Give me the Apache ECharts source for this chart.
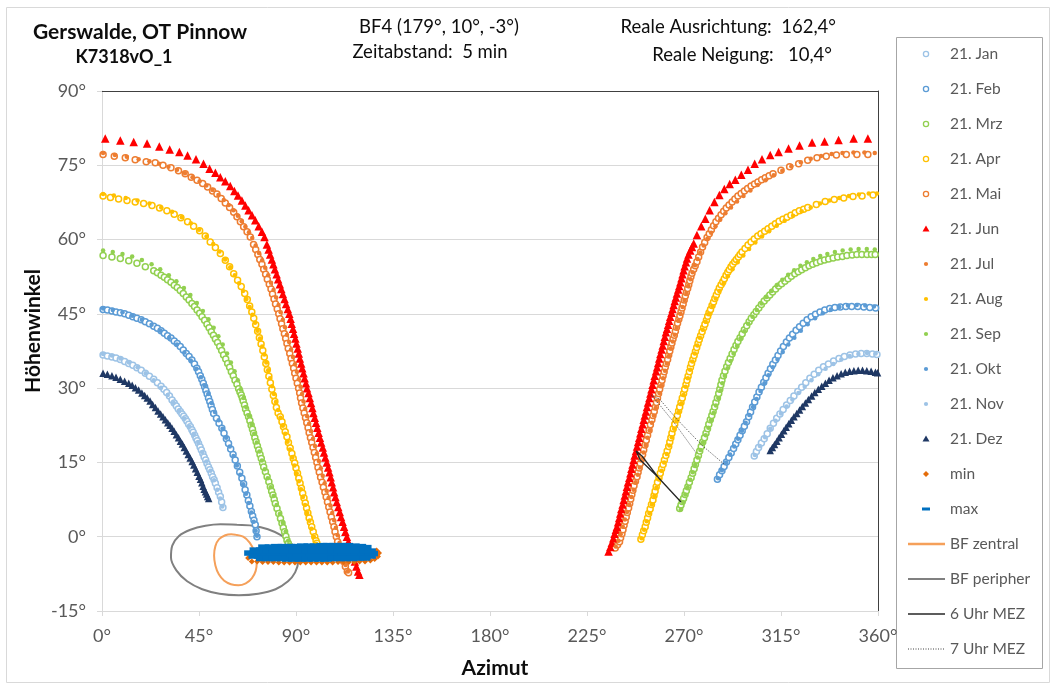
<!DOCTYPE html>
<html>
<head>
<meta charset="utf-8">
<script src="https://cdn.jsdelivr.net/npm/echarts@6/dist/echarts.min.js"></script>
<style>
  html, body { margin: 0; padding: 0; background: #fff; }
  #chart { width: 1055px; height: 688px; }
</style>
</head>
<body>
<div id="chart"></div>
<script>
// Sun positions reflected over the module field, one point every 5 minutes.
// Every point is [azimuth in degrees, elevation in degrees].

const AZ_MIN = 0, AZ_MAX = 360, AZ_STEP = 45;
const EL_MIN = -15, EL_MAX = 90, EL_STEP = 15;

const legendNames = ['21. Jan', '21. Feb', '21. Mrz', '21. Apr', '21. Mai', '21. Jun',
  '21. Jul', '21. Aug', '21. Sep', '21. Okt', '21. Nov', '21. Dez',
  'min', 'max', 'BF zentral', 'BF peripher', '6 Uhr MEZ', '7 Uhr MEZ'];

// ---- 21. Jan ----
const janLeft = [[0.5,36.7],[2.5,36.5],[4.6,36.3],[6.5,36.1],[8.5,35.8],[10.5,35.4],[12.4,35.0],[14.3,34.6],[16.2,34.1],[18.2,33.6],[20.1,33.0],[22.0,32.4],[24.0,31.8],[25.7,31.1],[27.4,30.4],[28.7,29.8],[30.0,29.1],[31.3,28.4],[32.5,27.6],[33.5,27.0],[34.5,26.4],[35.4,25.8],[36.3,25.3],[37.1,24.8],[37.9,24.3],[38.7,23.8],[39.4,23.3],[40.2,22.7],[41.0,22.2],[41.7,21.6],[42.3,21.1],[43.0,20.5],[43.6,19.9],[44.2,19.4],[44.8,18.8],[45.5,18.1],[46.1,17.5],[46.8,16.8],[47.4,16.1],[48.1,15.5],[48.7,14.8],[49.4,14.1],[50.0,13.5],[50.7,12.8],[51.3,12.1],[52.0,11.5],[52.6,10.8],[53.4,9.9],[54.1,9.0],[54.9,8.1],[55.5,7.0],[56.1,5.9]];
const janRight = [[302.6,16.3],[303.6,17.2],[304.6,18.0],[305.9,18.9],[307.2,19.8],[308.6,20.8],[310.0,21.9],[311.5,22.9],[313.0,23.9],[314.5,24.8],[316.0,25.7],[317.6,26.6],[319.3,27.5],[321.0,28.4],[322.8,29.3],[324.6,30.2],[326.5,31.1],[328.4,32.0],[330.4,32.8],[332.5,33.6],[334.7,34.3],[337.0,34.9],[339.4,35.5],[341.9,36.0],[344.4,36.4],[347.0,36.7],[349.6,36.9],[352.2,37.0],[354.8,37.0],[357.4,36.9],[359.5,36.8]];

// ---- 21. Feb ----
const febLeft = [[0.5,45.9],[2.5,45.8],[4.6,45.6],[6.5,45.4],[8.5,45.2],[10.5,45.0],[12.4,44.7],[14.3,44.4],[16.2,44.1],[18.2,43.8],[20.1,43.4],[22.0,43.0],[24.0,42.5],[25.7,42.1],[27.4,41.6],[28.9,41.1],[30.4,40.6],[32.0,40.1],[33.5,39.5],[34.9,39.0],[36.3,38.4],[37.7,37.7],[39.1,37.0],[40.4,36.4],[41.7,35.7],[42.9,34.9],[44.0,34.0],[44.8,33.3],[45.6,32.5],[46.3,31.8],[47.0,31.0],[47.6,30.3],[48.2,29.5],[48.8,28.8],[49.4,28.0],[50.0,27.3],[50.6,26.5],[51.2,25.7],[51.8,24.9],[53.1,23.9],[54.3,22.9],[55.6,21.9],[56.6,20.9],[57.7,19.8],[58.7,18.8],[59.7,17.7],[60.8,16.6],[61.8,15.5],[62.8,14.3],[63.9,13.0],[64.9,11.8],[65.7,10.7],[66.4,9.5],[67.2,8.4],[67.9,7.3],[68.6,6.2],[69.3,5.1],[69.9,4.2],[70.5,3.3],[71.1,2.4],[71.5,1.2],[71.9,0.0]];
const febRight = [[285.5,11.6],[286.5,12.5],[287.6,13.3],[288.6,14.2],[289.7,15.1],[290.8,16.0],[291.9,16.9],[293.0,17.8],[294.0,18.7],[295.0,19.6],[296.0,20.5],[297.0,21.4],[298.0,22.3],[299.0,23.2],[300.0,24.2],[300.9,25.2],[301.8,26.2],[302.8,27.2],[303.8,28.2],[304.8,29.2],[305.9,30.2],[307.0,31.2],[308.0,32.1],[309.0,33.0],[310.1,33.9],[311.2,34.8],[312.4,35.7],[313.6,36.6],[314.8,37.5],[316.1,38.4],[317.5,39.3],[318.9,40.1],[320.4,40.9],[322.0,41.7],[323.6,42.4],[325.3,43.1],[327.1,43.8],[329.0,44.4],[331.0,44.9],[333.1,45.4],[335.3,45.8],[337.6,46.1],[340.0,46.3],[342.5,46.4],[345.1,46.5],[347.8,46.5],[350.6,46.5],[353.4,46.4],[356.2,46.3],[358.9,46.2]];

// ---- 21. Mrz ----
const mrzLeft = [[0.5,56.8],[4.6,56.5],[8.5,56.2],[12.4,55.7],[16.2,55.2],[20.1,54.5],[24.0,53.7],[25.7,53.3],[27.4,52.8],[28.9,52.4],[30.4,51.9],[32.0,51.4],[33.5,50.8],[34.9,50.3],[36.3,49.7],[37.7,49.1],[39.1,48.4],[40.4,47.8],[41.7,47.1],[42.9,46.5],[44.1,45.8],[45.3,45.1],[46.4,44.4],[47.6,43.7],[48.7,42.9],[49.7,42.2],[50.7,41.4],[51.7,40.7],[52.6,39.9],[53.6,39.2],[54.6,38.4],[55.5,37.6],[56.4,36.7],[57.4,35.9],[58.3,35.0],[59.2,34.2],[60.0,33.3],[60.9,32.5],[61.7,31.6],[62.6,30.8],[63.4,29.9],[64.0,29.2],[64.6,28.6],[65.1,28.0],[65.5,27.4],[66.1,26.6],[66.6,25.8],[67.3,25.0],[68.0,24.2],[68.6,23.4],[69.2,22.5],[69.8,21.7],[70.3,20.9],[70.9,20.0],[71.5,19.2],[72.1,18.3],[72.7,17.5],[73.3,16.6],[73.9,15.8],[74.5,14.9],[75.0,14.1],[75.8,13.1],[76.6,12.1],[77.4,11.1],[78.1,10.1],[78.7,9.2],[79.3,8.4],[79.9,7.5],[80.4,6.7],[81.2,5.7],[82.0,4.7],[82.8,3.7],[83.5,2.7],[84.1,1.8],[84.7,1.0],[85.3,0.1],[85.8,-0.7],[86.4,-1.3],[87.0,-2.0]];
const mrzRight = [[268.0,5.7],[268.6,6.4],[269.2,7.1],[269.8,7.7],[270.5,8.5],[271.1,9.3],[271.8,10.1],[272.5,11.0],[273.3,11.9],[274.0,12.8],[274.7,13.7],[275.3,14.6],[276.0,15.5],[276.7,16.4],[277.3,17.3],[278.0,18.2],[278.7,19.1],[279.5,20.0],[280.2,20.9],[280.9,21.8],[281.5,22.7],[282.2,23.6],[282.9,24.5],[283.5,25.3],[284.2,26.2],[284.8,27.1],[285.5,28.0],[286.1,28.9],[286.6,29.8],[287.1,30.7],[287.6,31.6],[288.3,32.5],[289.0,33.4],[289.8,34.3],[290.6,35.2],[291.4,36.0],[292.3,36.9],[293.2,37.8],[294.1,38.6],[295.0,39.4],[296.0,40.2],[297.0,41.0],[298.0,41.8],[299.1,42.6],[300.2,43.4],[301.2,44.1],[302.4,44.8],[303.5,45.5],[304.7,46.2],[305.9,46.9],[307.2,47.6],[308.5,48.2],[309.8,48.8],[311.1,49.4],[312.5,50.0],[313.9,50.6],[315.3,51.1],[316.8,51.6],[318.3,52.1],[319.8,52.6],[321.4,53.1],[323.0,53.5],[324.6,53.9],[326.3,54.3],[328.0,54.7],[329.7,55.0],[331.5,55.3],[333.3,55.6],[335.2,55.9],[337.1,56.1],[339.2,56.3],[341.3,56.5],[343.5,56.6],[345.6,56.8],[348.0,56.9],[350.2,57.0],[352.5,57.0],[354.9,57.0],[357.0,57.0],[358.7,57.0]];

// ---- 21. Apr ----
const aprLeft = [[0.5,68.8],[3.9,68.5],[7.7,68.2],[11.6,67.9],[15.4,67.6],[19.3,67.3],[23.2,66.9],[26.7,66.4],[30.1,65.8],[33.5,65.1],[36.6,64.4],[39.7,63.6],[42.5,62.7],[45.3,61.8],[47.9,60.7],[50.2,59.5],[52.6,58.4],[54.9,57.2],[57.2,55.8],[59.2,54.5],[61.1,53.1],[62.9,51.8],[64.6,50.5],[66.2,49.1],[67.4,47.9],[68.5,46.6],[69.5,45.4],[70.4,44.1],[71.3,42.8],[72.2,41.5],[73.0,40.2],[73.8,38.9],[74.6,37.6],[75.3,36.3],[76.0,35.0],[76.7,33.7],[77.4,32.4],[78.1,31.1],[78.8,29.8],[79.5,28.5],[80.2,27.3],[80.9,26.1],[81.7,25.0],[82.7,24.2],[83.5,23.2],[84.2,22.2],[85.0,21.2],[85.8,20.2],[86.5,19.0],[87.3,17.9],[88.1,16.8],[88.7,15.8],[89.4,14.9],[90.0,13.9],[90.7,12.8],[91.3,11.8],[91.9,10.8],[92.5,9.8],[93.1,8.8],[93.7,7.8],[94.3,6.8],[94.9,5.8],[95.5,4.8],[96.1,3.8],[96.7,2.9],[97.3,2.0],[98.0,1.0],[98.7,0.0],[99.3,-0.8],[99.7,-1.3]];
const aprRight = [[250.0,-0.5],[250.7,0.4],[251.3,1.2],[252.0,2.0],[252.5,2.9],[253.1,3.8],[253.6,4.7],[254.3,5.6],[254.9,6.5],[255.6,7.4],[256.1,8.3],[256.6,9.2],[257.1,10.1],[257.7,11.0],[258.4,11.9],[259.0,12.8],[259.6,13.7],[260.3,14.6],[260.9,15.5],[261.6,16.4],[262.2,17.3],[262.9,18.2],[263.4,19.1],[263.9,20.0],[264.4,20.9],[265.0,21.8],[265.7,22.7],[266.3,23.6],[266.9,24.5],[267.5,25.4],[268.0,26.2],[268.6,27.1],[269.2,28.0],[269.8,28.9],[270.3,29.8],[270.9,30.7],[271.4,31.6],[271.9,32.4],[272.5,33.3],[273.0,34.2],[273.5,35.0],[274.1,35.8],[274.7,36.6],[275.3,37.4],[275.9,38.2],[276.5,39.0],[277.1,39.8],[277.7,40.6],[278.4,41.4],[279.1,42.2],[279.7,42.9],[280.4,43.7],[281.0,44.5],[281.6,45.2],[282.3,45.9],[283.0,46.7],[283.7,47.4],[284.3,48.1],[285.0,48.8],[285.7,49.5],[286.4,50.2],[287.2,50.9],[288.0,51.5],[288.7,52.1],[289.5,52.8],[290.3,53.4],[291.0,53.9],[291.8,54.5],[292.6,55.0],[293.5,55.5],[294.3,56.0],[295.2,56.5],[296.0,57.0],[296.9,57.5],[298.3,58.2],[299.7,58.9],[301.1,59.5],[302.6,60.1],[304.2,60.7],[305.7,61.2],[307.4,61.7],[309.0,62.2],[310.7,62.7],[312.4,63.2],[314.1,63.7],[315.9,64.1],[317.8,64.5],[319.6,64.9],[321.6,65.4],[323.5,65.8],[325.5,66.1],[327.4,66.5],[331.4,67.1],[335.5,67.7],[339.7,68.1],[344.1,68.4],[348.4,68.7],[352.6,68.8],[357.7,69.0]];

// ---- 21. Mai ----
const maiLeft = [[0.5,77.2],[5.7,76.8],[10.8,76.5],[15.4,76.1],[20.5,75.7],[24.7,75.5],[28.3,75.0],[32.0,74.5],[35.5,73.9],[38.6,73.3],[41.4,72.6],[44.1,72.0],[46.7,71.3],[49.0,70.6],[51.3,69.8],[53.3,69.2],[55.3,68.3],[57.2,67.4],[59.2,66.5],[61.1,65.5],[62.6,64.6],[64.2,63.6],[65.7,62.6],[67.3,61.6],[68.8,60.5],[70.3,59.0],[71.3,58.0],[72.3,57.0],[73.2,56.0],[74.2,55.0],[75.0,54.0],[75.9,53.0],[76.7,52.0],[77.6,51.0],[78.4,50.0],[79.1,49.0],[79.8,48.0],[80.5,47.0],[81.3,46.0],[82.0,45.0],[82.6,44.0],[83.3,43.0],[83.9,42.0],[84.6,41.0],[85.2,40.0],[85.8,39.0],[86.4,38.0],[87.1,37.0],[87.7,36.0],[88.3,35.0],[88.9,34.0],[89.4,33.0],[90.0,32.0],[90.6,31.0],[91.2,30.0],[91.7,29.0],[92.1,28.0],[92.6,27.0],[93.2,26.0],[93.8,25.0],[94.4,24.0],[95.0,23.0],[95.6,22.0],[96.1,21.0],[96.7,20.0],[97.3,19.0],[97.9,18.0],[98.5,17.0],[99.1,16.0],[99.7,15.0],[100.2,14.0],[100.8,13.0],[101.4,12.0],[102.1,11.0],[102.7,10.0],[103.4,9.0],[104.0,8.0],[104.6,7.0],[105.2,6.0],[105.8,5.0],[106.4,4.0],[107.0,3.0],[107.6,2.0],[108.1,1.0],[108.7,0.0],[109.3,-1.0],[110.0,-2.0],[110.7,-3.0],[111.3,-4.0],[112.1,-5.0],[112.9,-6.0],[113.8,-7.0],[114.4,-7.3]];
const maiRight = [[238.1,-2.3],[239.2,-1.6],[240.1,-1.0],[240.6,-0.2],[241.2,0.6],[241.7,1.4],[242.2,2.3],[242.7,3.1],[243.2,4.0],[243.7,4.9],[244.3,5.8],[244.8,6.7],[245.3,7.6],[245.8,8.5],[246.3,9.4],[246.8,10.3],[247.5,11.2],[248.2,12.1],[248.7,13.0],[249.2,13.9],[249.7,14.8],[250.3,15.7],[250.8,16.6],[251.3,17.5],[251.9,18.5],[252.5,19.5],[253.1,20.5],[253.8,21.5],[254.4,22.6],[255.1,23.6],[255.6,24.5],[256.2,25.3],[256.7,26.2],[257.2,27.1],[257.7,28.0],[258.2,28.9],[258.7,29.8],[259.3,30.7],[259.8,31.6],[260.3,32.5],[260.8,33.3],[261.3,34.2],[261.8,35.0],[262.4,35.8],[262.9,36.7],[263.4,37.5],[263.9,38.3],[264.4,39.1],[264.9,39.9],[265.5,40.7],[266.0,41.5],[266.5,42.3],[267.0,43.1],[267.6,43.9],[268.1,44.6],[268.6,45.4],[269.1,46.2],[269.6,47.0],[270.1,47.8],[270.6,48.6],[271.1,49.3],[271.7,50.1],[272.2,50.9],[272.7,51.7],[273.2,52.5],[273.7,53.2],[274.5,54.0],[275.2,54.7],[276.0,55.5],[276.8,56.5],[277.7,57.5],[278.6,58.5],[279.6,59.4],[280.7,60.4],[281.7,61.2],[282.7,62.0],[283.7,62.8],[284.8,63.6],[286.0,64.3],[287.2,65.0],[288.4,65.7],[289.6,66.4],[290.9,67.0],[292.3,67.6],[293.6,68.2],[295.0,68.8],[296.5,69.3],[298.0,69.8],[299.5,70.3],[301.1,70.8],[302.7,71.2],[304.3,71.6],[306.0,72.1],[307.7,72.5],[309.5,72.9],[311.3,73.3],[315.0,74.0],[319.0,74.7],[323.2,75.3],[327.4,76.0],[331.7,76.5],[336.0,76.8],[340.7,77.1],[345.3,77.2],[350.2,77.2],[355.3,77.2]];

// ---- 21. Jun ----
const junLeft = [[1.5,80.4],[8.5,80.0],[14.7,79.7],[20.9,79.4],[26.6,78.8],[31.4,78.2],[35.9,77.7],[39.7,77.0],[43.6,76.2],[47.1,75.3],[49.9,74.3],[52.6,73.5],[54.9,72.6],[57.2,71.8],[59.5,70.8],[61.4,69.8],[63.1,68.9],[64.9,67.9],[66.5,66.9],[68.0,65.9],[69.6,64.9],[71.1,63.9],[72.7,62.7],[74.2,61.6],[75.4,60.5],[76.5,59.0],[77.3,58.0],[78.0,57.0],[78.8,56.0],[79.5,55.0],[80.2,54.0],[81.0,53.0],[81.7,52.0],[82.5,51.0],[83.2,50.0],[83.9,49.0],[84.7,48.0],[85.4,47.0],[86.2,46.0],[86.9,45.0],[87.5,44.0],[88.0,43.0],[88.6,42.0],[89.1,41.0],[89.7,40.0],[90.2,39.0],[90.8,38.0],[91.3,37.0],[91.8,36.0],[92.4,35.0],[92.9,34.0],[93.5,33.0],[94.0,32.0],[94.6,31.0],[95.1,30.0],[95.8,29.0],[96.4,28.0],[97.0,27.0],[97.6,26.0],[98.1,25.0],[98.7,24.0],[99.3,23.0],[99.9,22.0],[100.5,21.0],[101.1,20.0],[101.7,19.0],[102.4,18.0],[103.0,17.0],[103.6,16.0],[104.3,15.0],[104.9,14.0],[105.5,13.0],[106.1,12.0],[106.6,11.0],[107.2,10.0],[107.7,9.0],[108.3,8.0],[108.9,7.0],[109.6,6.0],[110.3,5.0],[110.9,4.0],[111.6,3.0],[112.3,2.0],[112.9,1.0],[113.6,0.0],[114.3,-1.0],[115.1,-2.0],[115.8,-3.0],[116.6,-4.0],[117.3,-5.0],[118.0,-6.0],[118.8,-7.0],[119.4,-7.7]];
const junRight = [[235.0,-3.0],[235.8,-2.1],[236.5,-1.2],[237.2,-0.3],[237.8,0.6],[238.4,1.4],[238.9,2.0],[239.4,2.9],[239.9,3.8],[240.4,4.7],[240.9,5.6],[241.5,6.5],[242.0,7.4],[242.5,8.3],[243.0,9.2],[243.5,10.1],[244.0,11.0],[244.6,11.9],[245.1,12.8],[245.6,13.7],[246.1,14.6],[246.6,15.5],[247.1,16.4],[247.7,17.3],[248.2,18.2],[248.7,19.1],[249.2,20.0],[249.7,20.9],[250.2,21.8],[250.8,22.7],[251.3,23.6],[251.8,24.5],[252.3,25.3],[252.8,26.2],[253.3,27.1],[253.9,28.0],[254.4,28.9],[254.9,29.8],[255.4,30.7],[255.9,31.6],[256.4,32.5],[257.0,33.4],[257.5,34.2],[258.0,35.1],[258.5,36.0],[259.0,36.9],[259.6,37.8],[260.1,38.6],[260.6,39.5],[261.1,40.4],[261.6,41.3],[262.1,42.0],[262.6,42.8],[263.1,43.6],[263.6,44.4],[264.2,45.2],[264.7,46.0],[265.2,46.8],[265.7,47.6],[266.2,48.3],[266.7,49.1],[267.3,49.9],[267.8,50.6],[268.3,51.4],[268.8,52.2],[269.3,53.0],[269.8,53.8],[270.3,54.6],[270.9,55.4],[271.4,56.2],[272.1,57.0],[272.9,57.8],[273.7,58.5],[274.5,59.2],[276.0,60.9],[278.0,62.7],[279.9,64.2],[281.9,65.9],[284.1,67.6],[286.4,69.0],[288.7,70.2],[291.2,71.2],[293.8,72.1],[296.6,73.1],[299.7,74.1],[302.8,75.3],[306.2,76.2],[310.0,77.1],[313.9,77.7],[318.5,78.4],[323.6,79.0],[329.4,79.6],[335.2,79.8],[341.7,80.1],[348.7,80.4],[355.3,80.4]];

// ---- 21. Jul ----
const julLeft = [[0.5,77.5],[6.0,77.1],[11.5,76.7],[17.0,76.2],[22.0,75.8],[26.5,75.3],[30.8,74.7],[34.8,74.1],[38.5,73.4],[42.0,72.6],[45.3,71.8],[48.4,70.9],[51.3,70.0],[54.0,69.0],[56.5,68.0],[58.8,67.0],[61.0,65.9],[63.0,64.8],[64.8,63.7],[66.5,62.6],[68.2,61.5],[69.7,60.3],[71.3,58.8],[72.8,57.3],[74.3,55.8],[75.7,54.3],[77.1,52.8],[78.4,51.3],[79.6,49.8],[80.8,48.3],[81.9,46.8],[82.9,45.3],[83.9,43.8],[84.9,42.3],[85.8,40.8],[86.8,39.3],[87.7,37.8],[88.6,36.3],[89.5,34.8],[90.4,33.3],[91.3,31.8],[92.1,30.3],[92.8,28.8],[93.5,27.3],[94.3,25.8],[95.2,24.3],[96.1,22.8],[97.0,21.3],[97.9,19.8],[98.8,18.3],[99.7,16.8],[100.6,15.3],[101.5,13.8],[102.4,12.3],[103.3,10.8],[104.2,9.3],[105.1,7.8],[106.0,6.3],[106.8,4.8],[107.7,3.3],[108.5,1.8],[109.3,0.3],[110.2,-1.2],[111.1,-2.7],[112.0,-4.2],[113.0,-5.7],[114.1,-7.0]];
const julRight = [[238.3,-2.0],[239.6,-0.8],[240.6,0.5],[241.6,2.0],[242.6,3.5],[243.6,5.0],[244.6,6.5],[245.6,8.0],[246.6,9.5],[247.6,11.0],[248.6,12.5],[249.5,14.0],[250.4,15.5],[251.3,17.0],[252.2,18.5],[253.1,20.0],[254.1,21.5],[255.1,23.0],[256.0,24.5],[256.9,26.0],[257.7,27.5],[258.6,29.0],[259.4,30.5],[260.3,32.0],[261.2,33.5],[262.1,35.0],[263.0,36.5],[263.9,38.0],[264.8,39.4],[265.7,40.8],[266.6,42.2],[267.5,43.6],[268.4,45.0],[269.3,46.4],[270.2,47.8],[271.1,49.2],[272.0,50.6],[273.0,52.0],[274.0,53.4],[275.1,54.8],[276.3,56.1],[277.6,57.4],[279.1,58.8],[280.8,60.1],[282.6,61.4],[284.6,62.7],[286.8,64.0],[289.2,65.3],[291.8,66.5],[294.6,67.7],[297.6,68.8],[300.8,69.9],[304.2,71.0],[307.8,72.0],[311.6,73.0],[315.6,73.9],[319.8,74.8],[324.2,75.6],[328.8,76.3],[333.6,76.9],[338.5,77.3],[343.5,77.5],[348.6,77.6],[353.7,77.6],[358.5,77.5]];

// ---- 21. Aug ----
const augLeft = [[0.5,69.2],[5.5,68.9],[11.0,68.4],[16.5,67.9],[22.0,67.3],[27.5,66.5],[32.5,65.6],[37.0,64.5],[41.2,63.3],[45.0,62.0],[48.5,60.6],[51.6,59.1],[54.5,57.6],[57.1,56.0],[59.5,54.4],[61.6,52.8],[63.6,51.2],[65.4,49.6],[67.0,48.0],[68.5,46.4],[69.8,44.8],[71.0,43.2],[72.2,41.6],[73.3,40.0],[74.3,38.4],[75.3,36.8],[76.2,35.2],[77.1,33.6],[78.0,32.0],[78.9,30.4],[79.8,28.8],[80.7,27.2],[81.7,25.6],[82.8,24.0],[83.9,22.4],[85.0,20.8],[86.1,19.2],[87.2,17.6],[88.3,16.0],[89.3,14.4],[90.3,12.8],[91.3,11.2],[92.3,9.6],[93.2,8.0],[94.2,6.4],[95.2,4.8],[96.2,3.2],[97.2,1.6],[98.3,0.0],[99.3,-1.4]];
const augRight = [[250.3,-0.3],[251.5,1.4],[252.7,3.1],[253.9,4.8],[255.1,6.5],[256.2,8.2],[257.2,9.9],[258.4,11.6],[259.6,13.3],[260.8,15.0],[262.0,16.7],[263.2,18.4],[264.3,20.1],[265.4,21.8],[266.5,23.5],[267.6,25.2],[268.7,26.9],[269.8,28.6],[270.8,30.3],[271.8,32.0],[272.8,33.7],[273.9,35.4],[275.0,37.0],[276.2,38.6],[277.4,40.2],[278.7,41.8],[280.1,43.4],[281.6,45.0],[283.1,46.6],[284.7,48.1],[286.4,49.6],[288.3,51.1],[290.3,52.6],[292.5,54.0],[294.9,55.4],[297.5,56.8],[300.2,58.1],[303.1,59.4],[306.2,60.6],[309.5,61.7],[313.0,62.8],[316.7,63.8],[320.6,64.8],[324.6,65.7],[328.8,66.5],[333.1,67.3],[337.5,67.9],[342.0,68.4],[346.5,68.8],[351.1,69.1],[355.7,69.3],[359.5,69.3]];

// ---- 21. Sep ----
const sepLeft = [[0.5,57.8],[5.0,57.5],[9.5,57.1],[14.0,56.6],[18.5,55.9],[23.0,55.0],[27.0,54.0],[31.0,52.8],[34.5,51.6],[38.0,50.2],[41.0,48.8],[44.0,47.2],[46.8,45.6],[49.4,43.9],[51.8,42.2],[54.0,40.5],[56.0,38.8],[58.0,37.0],[59.8,35.2],[61.5,33.4],[63.0,31.6],[64.4,29.8],[65.7,28.0],[66.9,26.2],[68.2,24.4],[69.4,22.6],[70.6,20.8],[71.8,19.0],[73.0,17.2],[74.2,15.4],[75.5,13.6],[76.9,11.8],[78.3,10.0],[79.6,8.2],[81.0,6.4],[82.5,4.6],[83.9,2.8],[85.2,1.0],[86.4,-0.8],[87.4,-2.2]];
const sepRight = [[268.5,5.5],[269.5,7.0],[270.6,8.5],[271.7,10.0],[272.9,11.5],[274.1,13.0],[275.2,14.5],[276.4,16.0],[277.6,17.5],[278.8,19.0],[280.1,20.5],[281.3,22.0],[282.5,23.5],[283.7,25.0],[284.8,26.5],[285.9,28.0],[286.9,29.5],[287.8,31.0],[288.9,32.5],[290.2,34.0],[291.6,35.5],[293.0,37.0],[294.6,38.5],[296.2,40.0],[298.0,41.5],[299.8,43.0],[301.8,44.4],[303.8,45.8],[306.0,47.1],[308.3,48.4],[310.6,49.6],[313.0,50.8],[315.6,51.9],[318.3,52.9],[321.1,53.8],[324.0,54.7],[327.0,55.4],[330.0,56.1],[333.2,56.7],[336.5,57.1],[340.0,57.5],[343.6,57.8],[347.3,58.0],[351.0,58.1],[354.8,58.1],[358.5,58.0]];

// ---- 21. Okt ----
const oktLeft = [[0.5,46.1],[5.0,45.8],[9.5,45.3],[14.0,44.6],[18.5,43.8],[23.0,42.8],[27.2,41.6],[31.2,40.2],[34.8,38.8],[38.2,37.2],[41.2,35.6],[43.8,33.9],[45.9,32.2],[47.7,30.5],[49.3,28.8],[50.8,27.0],[52.4,25.2],[54.1,23.5],[55.9,21.8],[57.6,20.0],[59.3,18.2],[61.0,16.3],[62.6,14.4],[64.1,12.5],[65.5,10.6],[66.8,8.7],[68.1,6.8],[69.3,4.9],[70.4,3.0],[71.3,1.2],[71.9,0.2]];
const oktRight = [[285.8,11.8],[287.6,13.4],[289.5,15.0],[291.4,16.6],[293.3,18.2],[295.1,19.8],[296.9,21.4],[298.6,23.0],[300.3,24.6],[302.0,26.2],[303.7,27.8],[305.5,29.4],[307.3,31.0],[309.2,32.6],[311.2,34.2],[313.4,35.8],[315.8,37.3],[318.4,38.8],[321.2,40.2],[324.2,41.6],[327.4,42.9],[330.8,44.1],[334.4,45.1],[338.2,45.9],[342.1,46.4],[346.1,46.7],[350.1,46.8],[354.1,46.7],[358.1,46.5]];

// ---- 21. Nov ----
const novLeft = [[0.5,36.9],[4.5,36.6],[8.5,36.0],[12.5,35.2],[16.5,34.2],[20.3,33.0],[24.0,31.6],[27.4,30.1],[30.5,28.6],[33.3,27.0],[35.9,25.4],[38.3,23.8],[40.6,22.2],[42.7,20.6],[44.7,18.9],[46.6,17.1],[48.5,15.2],[50.3,13.3],[52.0,11.4],[53.5,9.5],[54.8,7.7],[55.8,6.1]];
const novRight = [[302.9,16.5],[305.2,18.3],[307.6,20.1],[310.0,21.8],[312.5,23.4],[315.0,24.9],[317.6,26.3],[320.3,27.7],[323.1,29.0],[326.0,30.3],[329.1,31.6],[332.3,32.8],[335.7,33.9],[339.3,34.9],[343.0,35.8],[346.9,36.5],[350.9,36.9],[354.9,37.1],[358.9,37.0]];

// ---- 21. Dez ----
const dezLeft = [[0.5,33.0],[2.5,32.8],[4.6,32.5],[6.5,32.2],[8.5,31.8],[10.5,31.4],[12.4,31.0],[14.0,30.6],[15.5,30.1],[17.0,29.6],[18.5,29.0],[19.8,28.5],[21.0,28.0],[22.3,27.4],[23.5,26.7],[24.8,26.1],[26.0,25.4],[27.2,24.8],[28.3,24.2],[29.4,23.6],[30.5,23.0],[31.5,22.5],[32.5,21.9],[33.5,21.3],[34.5,20.6],[35.5,20.0],[36.4,19.3],[37.3,18.7],[38.2,18.0],[39.1,17.3],[40.0,16.6],[40.9,15.9],[41.8,15.2],[42.6,14.5],[43.4,13.7],[44.2,13.0],[45.0,12.2],[45.7,11.6],[46.3,10.9],[46.9,10.2],[47.4,9.6],[48.0,9.1],[48.5,8.6],[49.0,8.1],[49.5,7.7]];
const dezRight = [[310.0,17.4],[311.0,18.0],[312.0,18.6],[313.1,19.3],[314.1,20.0],[315.2,20.7],[316.3,21.4],[317.4,22.1],[318.6,22.8],[319.8,23.5],[321.0,24.2],[322.3,24.9],[323.6,25.6],[324.9,26.3],[326.3,27.0],[327.7,27.7],[329.2,28.4],[330.7,29.1],[332.3,29.8],[333.9,30.4],[335.6,31.0],[337.3,31.6],[339.1,32.1],[341.0,32.5],[342.9,32.9],[344.8,33.2],[346.8,33.4],[348.8,33.5],[350.8,33.6],[352.8,33.6],[354.8,33.5],[356.8,33.4],[358.8,33.2],[359.8,33.1]];

// ---- min / max band below the horizon ----
const minPoints = [[67.8,-4.3],[69.5,-5.0],[72.0,-5.0],[74.5,-5.1],[77.0,-5.1],[79.5,-5.1],[82.0,-5.2],[84.5,-5.2],[87.0,-5.2],[89.5,-5.2],[92.0,-5.2],[94.5,-5.2],[97.0,-5.2],[99.5,-5.2],[102.0,-5.2],[104.5,-5.2],[107.0,-5.2],[109.5,-5.1],[112.0,-5.1],[114.5,-5.1],[117.0,-5.1],[119.5,-5.0],[122.0,-5.0],[124.5,-4.8],[126.5,-4.5],[128.0,-4.0],[128.5,-3.3],[127.4,-2.8]];
const maxPoints = [
  [75,-2.1],[78,-2.1],[81,-2.0],[84,-2.0],[87,-2.0],[90,-2.0],[93,-1.9],[96,-1.9],[99,-1.9],[102,-1.8],[105,-1.8],[108,-1.8],[111,-1.8],[114,-1.8],[117,-1.9],[120,-2.0],[122.5,-2.2],
  [71,-2.7],[74,-2.7],[77,-2.7],[80,-2.6],[83,-2.6],[86,-2.6],[89,-2.6],[92,-2.5],[95,-2.5],[98,-2.5],[101,-2.5],[104,-2.5],[107,-2.5],[110,-2.5],[113,-2.5],[116,-2.5],[119,-2.6],[122,-2.7],[124.5,-2.9],
  [68.5,-3.3],[71,-3.3],[74,-3.3],[77,-3.3],[80,-3.2],[83,-3.2],[86,-3.2],[89,-3.2],[92,-3.2],[95,-3.2],[98,-3.2],[101,-3.2],[104,-3.2],[107,-3.2],[110,-3.2],[113,-3.2],[116,-3.2],[119,-3.2],[122,-3.3],[125.5,-3.4],
  [70.5,-3.9],[73,-3.9],[76,-3.9],[79,-3.9],[82,-3.9],[85,-3.9],[88,-3.9],[91,-3.9],[94,-3.9],[97,-3.9],[100,-3.9],[103,-3.9],[106,-3.9],[109,-3.9],[112,-3.9],[115,-3.9],[118,-3.9],[121,-3.9],[124.5,-3.9],
  [74,-4.4],[77,-4.4],[80,-4.4],[83,-4.4],[86,-4.5],[89,-4.5],[92,-4.5],[95,-4.5],[98,-4.5],[101,-4.5],[104,-4.5],[107,-4.4],[110,-4.4],[113,-4.4],[116,-4.4],[119,-4.3],[122,-4.3]
];

// ---- field of view of the observer (closed outlines) ----
const bfZentral = [[62.0,0.4],[65.5,0.0],[68.5,-1.2],[70.7,-3.0],[71.8,-5.0],[71.3,-6.9],[69.5,-8.4],[66.7,-9.4],[63.3,-9.8],[59.8,-9.6],[56.7,-8.9],[54.2,-7.6],[52.6,-5.8],[52.0,-3.8],[52.6,-1.9],[54.3,-0.5],[57.2,0.3],[60.0,0.5],[62.0,0.4]];
const bfPeripher = [[62.6,2.4],[70.0,2.2],[77.0,1.5],[83.0,0.3],[87.5,-1.2],[90.3,-3.0],[91.0,-5.0],[89.6,-7.2],[86.3,-9.0],[80.5,-10.6],[72.5,-11.5],[63.5,-11.8],[54.5,-11.5],[46.5,-10.6],[39.5,-9.0],[34.5,-6.8],[32.0,-4.2],[32.6,-1.8],[35.6,0.1],[41.0,1.4],[48.0,2.2],[55.0,2.5],[62.6,2.4]];

// ---- same clock time across the months (Apr..Sep at 6:00, Mrz..Okt at 7:00) ----
const uhr6 = [[258.0,12.0],[249.7,15.5],[247.8,17.3],[250.5,16.3],[258.6,11.7],[268.6,7.0]];
const uhr7 = [[275.5,17.0],[265.5,23.0],[258.0,27.0],[254.8,28.6],[258.6,27.8],[267.0,23.6],[278.5,18.4],[289.0,14.5]];

// ---------------------------------------------------------------
const FONT = 'Lato, "Open Sans", "DejaVu Sans", sans-serif';
const COL = {
  jan: '#9DC3E6', feb: '#5B9BD5', mrz: '#92D050', apr: '#FFC000', mai: '#ED7D31',
  jun: '#FF0000', dez: '#1F3864', min: '#E46C0A', max: '#0070C0',
  bfz: '#F5A05A', bfp: '#808080', u6: '#262626', u7: '#404040'
};

function hollow(name, data, color) {
  return { name, type: 'scatter', data, symbol: 'circle', symbolSize: 6,
    itemStyle: { color: '#ffffff', borderColor: color, borderWidth: 1.5, opacity: 1 } };
}
function dot(name, data, color) {
  return { name, type: 'scatter', data, symbol: 'circle', symbolSize: 4.5,
    itemStyle: { color, opacity: 1 } };
}
function marker(name, data, color, symbol, size) {
  return { name, type: 'scatter', data, symbol, symbolSize: size, itemStyle: { color, opacity: 1 } };
}
function outline(name, data, color, width, dash, z) {
  return { name, type: 'line', data, symbol: 'none', smooth: 0.35, z,
    lineStyle: { color, width, type: dash }, itemStyle: { color } };
}

const series = [
  hollow('21. Jan', janLeft.concat(janRight), COL.jan),
  hollow('21. Feb', febLeft.concat(febRight), COL.feb),
  hollow('21. Mrz', mrzLeft.concat(mrzRight), COL.mrz),
  hollow('21. Apr', aprLeft.concat(aprRight), COL.apr),
  hollow('21. Mai', maiLeft.concat(maiRight), COL.mai),
  marker('21. Jun', junLeft.concat(junRight), COL.jun, 'triangle', 8.5),
  dot('21. Jul', julLeft.concat(julRight), COL.mai),
  dot('21. Aug', augLeft.concat(augRight), COL.apr),
  dot('21. Sep', sepLeft.concat(sepRight), COL.mrz),
  dot('21. Okt', oktLeft.concat(oktRight), COL.feb),
  dot('21. Nov', novLeft.concat(novRight), COL.jan),
  marker('21. Dez', dezLeft.concat(dezRight), COL.dez, 'triangle', 7.5),
  marker('min', minPoints, COL.min, 'diamond', 6),
  marker('max', maxPoints, COL.max, 'rect', [11, 5.5]),
  outline('BF zentral', bfZentral, COL.bfz, 2, 'solid', 1),
  outline('BF peripher', bfPeripher, COL.bfp, 2, 'solid', 1),
  { name: '6 Uhr MEZ', type: 'line', data: uhr6, symbol: 'none', z: 3,
    lineStyle: { color: COL.u6, width: 1.3 } },
  { name: '7 Uhr MEZ', type: 'line', data: uhr7, symbol: 'none', z: 3,
    lineStyle: { color: COL.u7, width: 1, type: [1, 1.5] } }
];

// ---- legend panel on the right ----
const legendKinds = [
  ['hollow', COL.jan], ['hollow', COL.feb], ['hollow', COL.mrz], ['hollow', COL.apr], ['hollow', COL.mai],
  ['tri', COL.jun], ['dot', COL.mai], ['dot', COL.apr], ['dot', COL.mrz], ['dot', COL.feb], ['dot', COL.jan],
  ['tri', COL.dez], ['diamond', COL.min], ['dash', COL.max],
  ['line', COL.bfz, 2.5], ['line', COL.bfp, 2], ['line', COL.u6, 1.5], ['dotted', COL.u7, 1]
];
const legendGraphics = [{
  type: 'rect', shape: { x: 896.5, y: 37.5, width: 146, height: 631 },
  style: { fill: 'none', stroke: '#A6A6A6', lineWidth: 1 }
}];
legendNames.forEach((name, i) => {
  const cy = 54 + 35 * i, cx = 926;
  const [kind, color, lw] = legendKinds[i];
  if (kind === 'hollow') legendGraphics.push({ type: 'circle', shape: { cx, cy, r: 2.6 }, style: { fill: '#fff', stroke: color, lineWidth: 1.3 } });
  if (kind === 'dot') legendGraphics.push({ type: 'circle', shape: { cx, cy, r: 2.1 }, style: { fill: color } });
  if (kind === 'tri') legendGraphics.push({ type: 'polygon', shape: { points: [[cx, cy - 3.5], [cx + 3.5, cy + 2.5], [cx - 3.5, cy + 2.5]] }, style: { fill: color } });
  if (kind === 'diamond') legendGraphics.push({ type: 'polygon', shape: { points: [[cx, cy - 3], [cx + 3, cy], [cx, cy + 3], [cx - 3, cy]] }, style: { fill: color } });
  if (kind === 'dash') legendGraphics.push({ type: 'rect', shape: { x: cx - 4, y: cy - 1.5, width: 8, height: 3 }, style: { fill: color } });
  if (kind === 'line') legendGraphics.push({ type: 'line', shape: { x1: 908, y1: cy, x2: 945, y2: cy }, style: { stroke: color, lineWidth: lw } });
  if (kind === 'dotted') legendGraphics.push({ type: 'line', shape: { x1: 908, y1: cy, x2: 945, y2: cy }, style: { stroke: color, lineWidth: lw, lineDash: [1, 1.5] } });
  legendGraphics.push({ type: 'text', x: 950, y: cy,
    style: { text: name, font: '15.5px ' + FONT, fill: '#595959', textVerticalAlign: 'middle' } });
});

const textGraphics = [
  { type: 'rect', shape: { x: 6.5, y: 7.5, width: 1043, height: 675 }, style: { fill: 'none', stroke: '#D9D9D9', lineWidth: 1 } },
  { type: 'text', x: 33, y: 32, style: { text: 'Gerswalde, OT Pinnow', font: 'bold 21px ' + FONT, fill: '#0D0D0D', textVerticalAlign: 'middle' } },
  { type: 'text', x: 124, y: 57, style: { text: 'K7318vO_1', font: 'bold 18px ' + FONT, fill: '#0D0D0D', textAlign: 'center', textVerticalAlign: 'middle' } },
  { type: 'text', x: 439, y: 27, style: { text: 'BF4 (179°, 10°, -3°)', font: '18.5px ' + FONT, fill: '#0D0D0D', textAlign: 'center', textVerticalAlign: 'middle' } },
  { type: 'text', x: 430, y: 52, style: { text: 'Zeitabstand:  5 min', font: '18.5px ' + FONT, fill: '#0D0D0D', textAlign: 'center', textVerticalAlign: 'middle' } },
  { type: 'text', x: 836, y: 27, style: { text: 'Reale Ausrichtung:  162,4°', font: '18.5px ' + FONT, fill: '#0D0D0D', textAlign: 'right', textVerticalAlign: 'middle' } },
  { type: 'text', x: 832, y: 55, style: { text: 'Reale Neigung:   10,4°', font: '18.5px ' + FONT, fill: '#0D0D0D', textAlign: 'right', textVerticalAlign: 'middle' } },
  { type: 'text', x: 33, y: 331, rotation: Math.PI / 2, style: { text: 'Höhenwinkel', font: 'bold 21px ' + FONT, fill: '#0D0D0D', textAlign: 'center', textVerticalAlign: 'middle' } },
  { type: 'text', x: 495, y: 668, style: { text: 'Azimut', font: 'bold 21px ' + FONT, fill: '#0D0D0D', textAlign: 'center', textVerticalAlign: 'middle' } }
];

const axisLabel = { formatter: '{value}°', color: '#595959', fontSize: 18, fontFamily: FONT };
const option = {
  animation: false,
  grid: { left: 102, right: 177, top: 91, bottom: 77 },
  xAxis: [
    { type: 'value', min: AZ_MIN, max: AZ_MAX, interval: AZ_STEP,
      axisLine: { show: true, onZero: false, lineStyle: { color: '#D9D9D9' } },
      axisTick: { show: true, length: 5, lineStyle: { color: '#D9D9D9' } },
      axisLabel: Object.assign({ margin: 16 }, axisLabel),
      splitLine: { show: false } },
    { type: 'value', position: 'top', min: AZ_MIN, max: AZ_MAX, interval: AZ_STEP,
      axisLine: { show: true, onZero: false, lineStyle: { color: '#404040' } },
      axisTick: { show: false }, axisLabel: { show: false }, splitLine: { show: false } }
  ],
  yAxis: [
    { type: 'value', min: EL_MIN, max: EL_MAX, interval: EL_STEP,
      axisLine: { show: true, onZero: false, lineStyle: { color: '#D9D9D9' } },
      axisTick: { show: true, length: 5, lineStyle: { color: '#D9D9D9' } },
      axisLabel: Object.assign({ margin: 16 }, axisLabel),
      splitLine: { show: true, lineStyle: { color: '#D9D9D9' } } },
    { type: 'value', position: 'right', min: EL_MIN, max: EL_MAX, interval: EL_STEP,
      axisLine: { show: true, onZero: false, lineStyle: { color: '#404040' } },
      axisTick: { show: false }, axisLabel: { show: false }, splitLine: { show: false } }
  ],
  series,
  graphic: textGraphics.concat(legendGraphics)
};

const chart = echarts.init(document.getElementById('chart'), null, { renderer: 'canvas' });
chart.setOption(option);
</script>
</body>
</html>
